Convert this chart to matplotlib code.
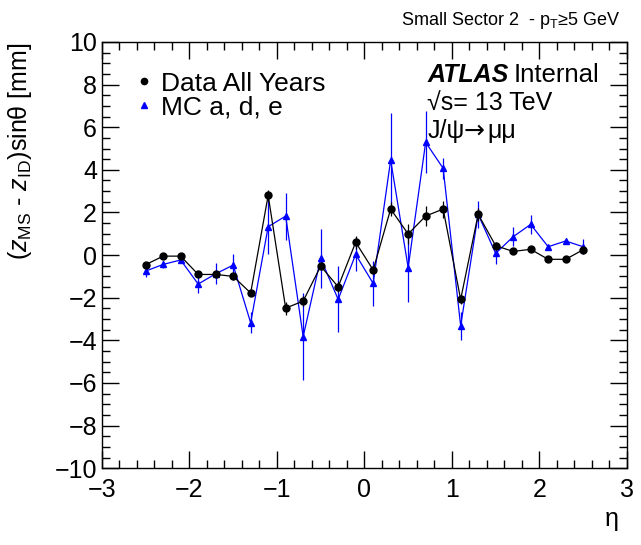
import numpy as np
import matplotlib
matplotlib.use("Agg")
from matplotlib import pyplot as plt
from matplotlib.ticker import MultipleLocator
from matplotlib.lines import Line2D

plt.rcParams['font.family'] = ['Liberation Sans', 'DejaVu Sans']
plt.rcParams['mathtext.fontset'] = 'custom'
plt.rcParams['mathtext.rm'] = 'Liberation Sans'
plt.rcParams['mathtext.it'] = 'Liberation Sans:italic'

# eta bin centres
eta = [-2.5, -2.3, -2.1, -1.9, -1.7, -1.5, -1.3, -1.1, -0.9, -0.7, -0.5, -0.3, -0.1,
       0.1, 0.3, 0.5, 0.7, 0.9, 1.1, 1.3, 1.5, 1.7, 1.9, 2.1, 2.3, 2.5]

data_y = [-0.45, -0.05, -0.05, -0.91, -0.91, -1.0, -1.78, 2.8, -2.49, -2.16, -0.52, -1.49, 0.6,
          -0.7, 2.16, 0.99, 1.83, 2.16, -2.08, 1.91, 0.44, 0.17, 0.27, -0.2, -0.2, 0.25]
data_err = [0.1, 0.1, 0.1, 0.1, 0.1, 0.15, 0.15, 0.25, 0.3, 0.25, 0.2, 0.25, 0.3,
            0.2, 0.35, 0.45, 0.45, 0.4, 0.2, 0.3, 0.15, 0.1, 0.1, 0.1, 0.1, 0.15]

mc_y = [-0.75, -0.44, -0.23, -1.36, -0.88, -0.47, -3.18, 1.33, 1.83, -3.83, -0.16, -2.08, 0.03,
        -1.33, 4.46, -0.59, 5.29, 4.07, -3.32, 1.91, 0.08, 0.86, 1.44, 0.39, 0.66, 0.39]
mc_err = [0.3, 0.15, 0.15, 0.4, 0.5, 0.5, 0.5, 1.3, 1.1, 2.05, 1.4, 1.55, 0.8,
          1.05, 2.2, 1.6, 1.45, 0.5, 0.65, 0.65, 0.5, 0.45, 0.43, 0.1, 0.1, 0.35]

fig = plt.figure(figsize=(6.41, 5.45), dpi=100)
ax = fig.add_axes([0.159, 0.141, 0.819, 0.782])

ax.errorbar(eta, mc_y, yerr=mc_err, color='#0000ff', marker='^', markersize=4.5,
            linewidth=0.9, elinewidth=0.9, capsize=0, zorder=2)
ax.errorbar(eta, data_y, yerr=data_err, color='black', marker='o', markersize=5,
            linewidth=0.9, elinewidth=0.9, capsize=0, zorder=3)

ax.set_xlim(-3, 3)
ax.set_ylim(-10, 10)
ax.xaxis.set_major_locator(MultipleLocator(1))
ax.xaxis.set_minor_locator(MultipleLocator(0.2))
ax.yaxis.set_major_locator(MultipleLocator(2))
ax.yaxis.set_minor_locator(MultipleLocator(0.5))
ax.tick_params(which='both', direction='in', top=True, right=True, labelsize=18, width=1)
ax.tick_params(which='major', length=12)
ax.tick_params(which='minor', length=6)
ax.tick_params(axis='x', pad=7)
for s in ax.spines.values():
    s.set_linewidth(1)

ax.set_ylabel(r'$(z_{\mathrm{MS}}$ - $z_{\mathrm{ID}})$sin$\mathrm{\theta}$ [mm]', fontsize=18)
ax.yaxis.set_label_coords(-0.13, 1.0)
ax.yaxis.label.set_horizontalalignment('right')
fig.text(0.955, 0.035, 'η', fontsize=18, ha='center')

fig.text(0.968, 0.955, r'Small Sector 2  - p$_{\mathrm{T}}$≥5 GeV', fontsize=13, ha='right')

handles = [Line2D([], [], color='black', marker='o', markersize=4.5, linestyle='none'),
           Line2D([], [], color='#0000ff', marker='^', markersize=4, linestyle='none')]
ax.legend(handles, ['Data All Years', 'MC a, d, e'], loc='upper left',
          bbox_to_anchor=(0.045, 0.955), frameon=False, fontsize=19, handlelength=0.6,
          handletextpad=0.35, labelspacing=0.0, borderaxespad=0)

ax.text(0.62, 0.905, 'ATLAS', transform=ax.transAxes, fontsize=18, fontweight='bold',
        fontstyle='italic')
ax.text(0.785, 0.905, 'Internal', transform=ax.transAxes, fontsize=18.5)
ax.text(0.62, 0.84, '√s= 13 TeV', transform=ax.transAxes, fontsize=18)
ax.text(0.62, 0.775, 'J/ψ', transform=ax.transAxes, fontsize=18)
ax.text(0.688, 0.775, '→', transform=ax.transAxes, fontsize=18, family='DejaVu Sans')
ax.text(0.735, 0.775, 'μμ', transform=ax.transAxes, fontsize=18)

fig.savefig('out.png', dpi=100)
